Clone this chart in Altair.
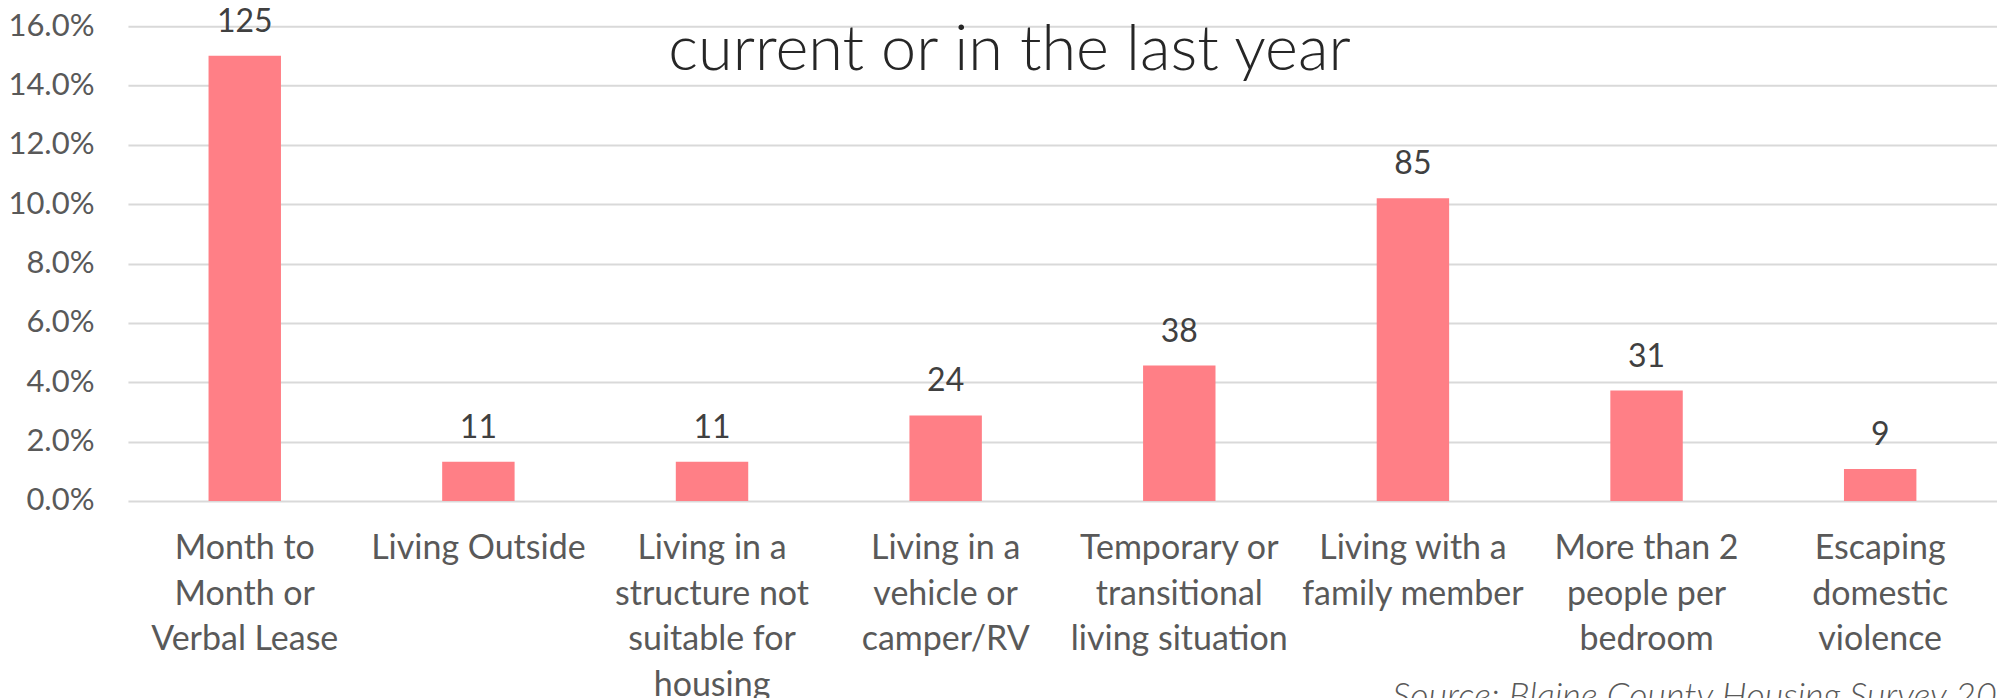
import altair as alt
import pandas as pd

categories = [
    "Month to|Month or|Verbal Lease",
    "Living Outside",
    "Living in a|structure not|suitable for|housing",
    "Living in a|vehicle or|camper/RV",
    "Temporary or|transitional|living situation",
    "Living with a|family member",
    "More than 2|people per|bedroom",
    "Escaping|domestic|violence",
]
shares = [0.150, 0.0132, 0.0132, 0.0288, 0.0456, 0.102, 0.0372, 0.0108]
counts = [125, 11, 11, 24, 38, 85, 31, 9]
y_ticks = [0.0, 0.02, 0.04, 0.06, 0.08, 0.10, 0.12, 0.14, 0.16]

title_text = ["current or in the last year"]
source_text = ["Source: Blaine County Housing Survey 2019"]

df = pd.DataFrame({"cat": categories, "share": shares, "count": counts})

FONT = "Lato"
GRAY = "#595959"

x_enc = alt.X(
    "cat:N",
    sort=categories,
    scale=alt.Scale(paddingInner=0.69, paddingOuter=0.345),
    axis=alt.Axis(
        title=None,
        labelAngle=0,
        labelExpr="split(datum.label, '|')",
        labelFont=FONT,
        labelFontSize=34,
        labelColor=GRAY,
        labelLineHeight=45.5,
        labelBaseline="top",
        labelPadding=31,
        labelLimit=400,
        ticks=False,
        domain=False,
        grid=False,
    ),
)
y_enc = alt.Y(
    "share:Q",
    scale=alt.Scale(domain=[0, 0.16], nice=False),
    axis=alt.Axis(
        title=None,
        format=".1%",
        values=y_ticks,
        labelFont=FONT,
        labelFontSize=31,
        labelColor=GRAY,
        labelPadding=34,
        ticks=False,
        domain=False,
        grid=True,
        gridColor="#D9D9D9",
        gridWidth=2,
    ),
)

bars = alt.Chart(df).mark_bar(color="#FF7F86").encode(x=x_enc, y=y_enc)

labels = alt.Chart(df).mark_text(
    font=FONT, fontSize=32, color="#404040", baseline="alphabetic", dy=-24
).encode(x=alt.X("cat:N", sort=categories), y="share:Q", text="count:Q")

title = alt.Chart(pd.DataFrame({"t": title_text})).mark_text(
    font=FONT, fontSize=63, fontWeight=300, color="#262626",
    align="center", baseline="alphabetic"
).encode(x=alt.value(882), y=alt.value(44), text="t:N")

source = alt.Chart(pd.DataFrame({"t": source_text})).mark_text(
    font=FONT, fontSize=36, fontStyle="italic", fontWeight=300, color=GRAY,
    align="left", baseline="alphabetic"
).encode(x=alt.value(1265), y=alt.value(682), text="t:N")

chart = alt.layer(bars, labels, title, source).properties(
    width=1870,
    height=475,
    autosize=alt.AutoSizeParams(type="none"),
    padding={"left": 120, "top": 18, "right": 0, "bottom": 197},
).configure_view(stroke=None)

chart.save("out.html", embed_options={"renderer": "svg", "actions": False})
